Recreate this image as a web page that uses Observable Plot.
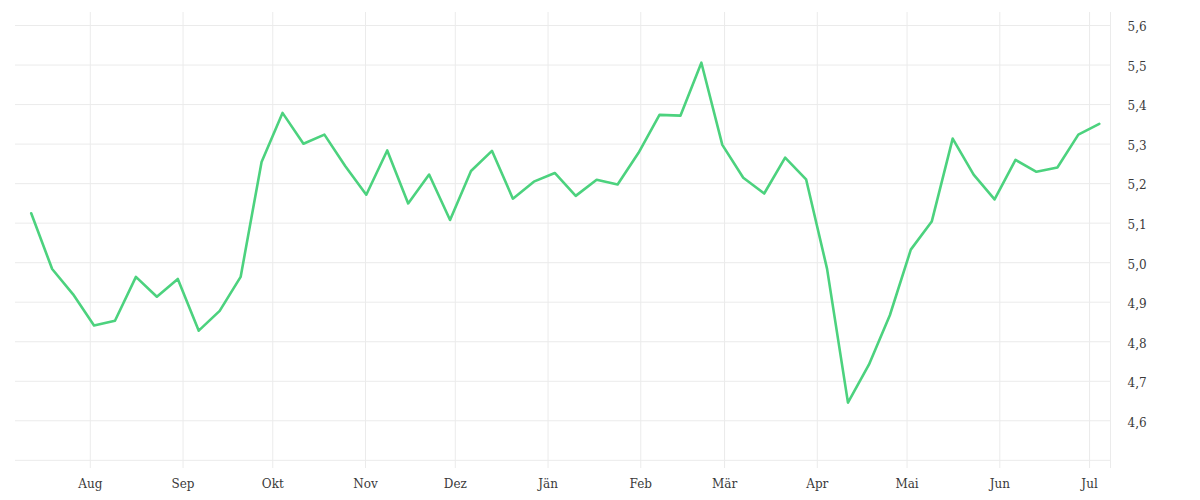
<!DOCTYPE html>
<html>
<head>
<meta charset="utf-8">
<script src="https://cdn.jsdelivr.net/npm/d3@7"></script>
<script src="https://cdn.jsdelivr.net/npm/@observablehq/plot@0.6"></script>
<style>
  html, body { margin: 0; padding: 0; background: #fff; }
  #chart svg { display: block; }
</style>
</head>
<body>
<div id="chart"></div>
<script>
// Weekly observations (start date) and values
const startDate = "2022-07-12";
const values = [
  5.125, 4.984, 4.920, 4.841, 4.853, 4.964, 4.914, 4.959, 4.828, 4.878,
  4.964, 5.255, 5.379, 5.301, 5.324, 5.244, 5.172, 5.284, 5.150, 5.223,
  5.108, 5.232, 5.283, 5.162, 5.205, 5.227, 5.169, 5.210, 5.198, 5.278,
  5.374, 5.372, 5.506, 5.298, 5.215, 5.175, 5.266, 5.211, 4.985, 4.646,
  4.742, 4.867, 5.033, 5.104, 5.314, 5.223, 5.160, 5.260, 5.230, 5.241,
  5.324, 5.351
];
const monthTicks = [
  "2022-08-01", "2022-09-01", "2022-10-01", "2022-11-01", "2022-12-01", "2023-01-01",
  "2023-02-01", "2023-03-01", "2023-04-01", "2023-05-01", "2023-06-01", "2023-07-01"
];
const monthLabels = ["Aug", "Sep", "Okt", "Nov", "Dez", "Jän", "Feb", "Mär", "Apr", "Mai", "Jun", "Jul"];
const yTicks = [4.6, 4.7, 4.8, 4.9, 5.0, 5.1, 5.2, 5.3, 5.4, 5.5, 5.6];
const yGrid = [4.5, 4.6, 4.7, 4.8, 4.9, 5.0, 5.1, 5.2, 5.3, 5.4, 5.5, 5.6];
const xDomain = ["2022-07-07T00:00Z", "2023-07-08T00:00Z"];
const yDomain = [4.5046, 5.633];

const t0 = new Date(startDate + "T06:00Z");
const data = values.map((v, i) => ({ date: d3.utcDay.offset(t0, 7 * i), value: v }));
const ticks = monthTicks.map(s => new Date(s + "T00:00Z"));
const labelMap = new Map(ticks.map((t, i) => [+t, monthLabels[i]]));

const plot = Plot.plot({
  width: 1200,
  height: 500,
  marginLeft: 15,
  marginRight: 90,
  marginTop: 12,
  marginBottom: 42,
  style: { fontFamily: "'DejaVu Serif', serif", fontSize: "12px", color: "#3a3a3a", background: "#fff" },
  x: { type: "utc", domain: xDomain.map(s => new Date(s)) },
  y: { domain: yDomain },
  marks: [
    Plot.ruleY(yGrid, { stroke: "#ebebeb", strokeWidth: 1 }),
    Plot.ruleX(ticks, { stroke: "#ebebeb", strokeWidth: 1, insetBottom: -10 }),
    Plot.ruleX([new Date(xDomain[1])], { stroke: "#ebebeb", strokeWidth: 1, insetBottom: -10 }),
    Plot.axisX({
      ticks: ticks,
      tickSize: 0,
      tickPadding: 21,
      tickFormat: d => labelMap.get(+d),
      fill: "#3a3a3a",
      label: null
    }),
    Plot.axisY({
      anchor: "right",
      ticks: yTicks,
      tickSize: 0,
      tickPadding: 17,
      dy: 2,
      textAnchor: "start",
      tickFormat: d => d.toFixed(1).replace(".", ","),
      fill: "#3a3a3a",
      label: null
    }),
    Plot.line(data, { x: "date", y: "value", stroke: "#4cd27e", strokeWidth: 2.6, strokeLinejoin: "round" })
  ]
});
document.getElementById("chart").appendChild(plot);
</script>
</body>
</html>
